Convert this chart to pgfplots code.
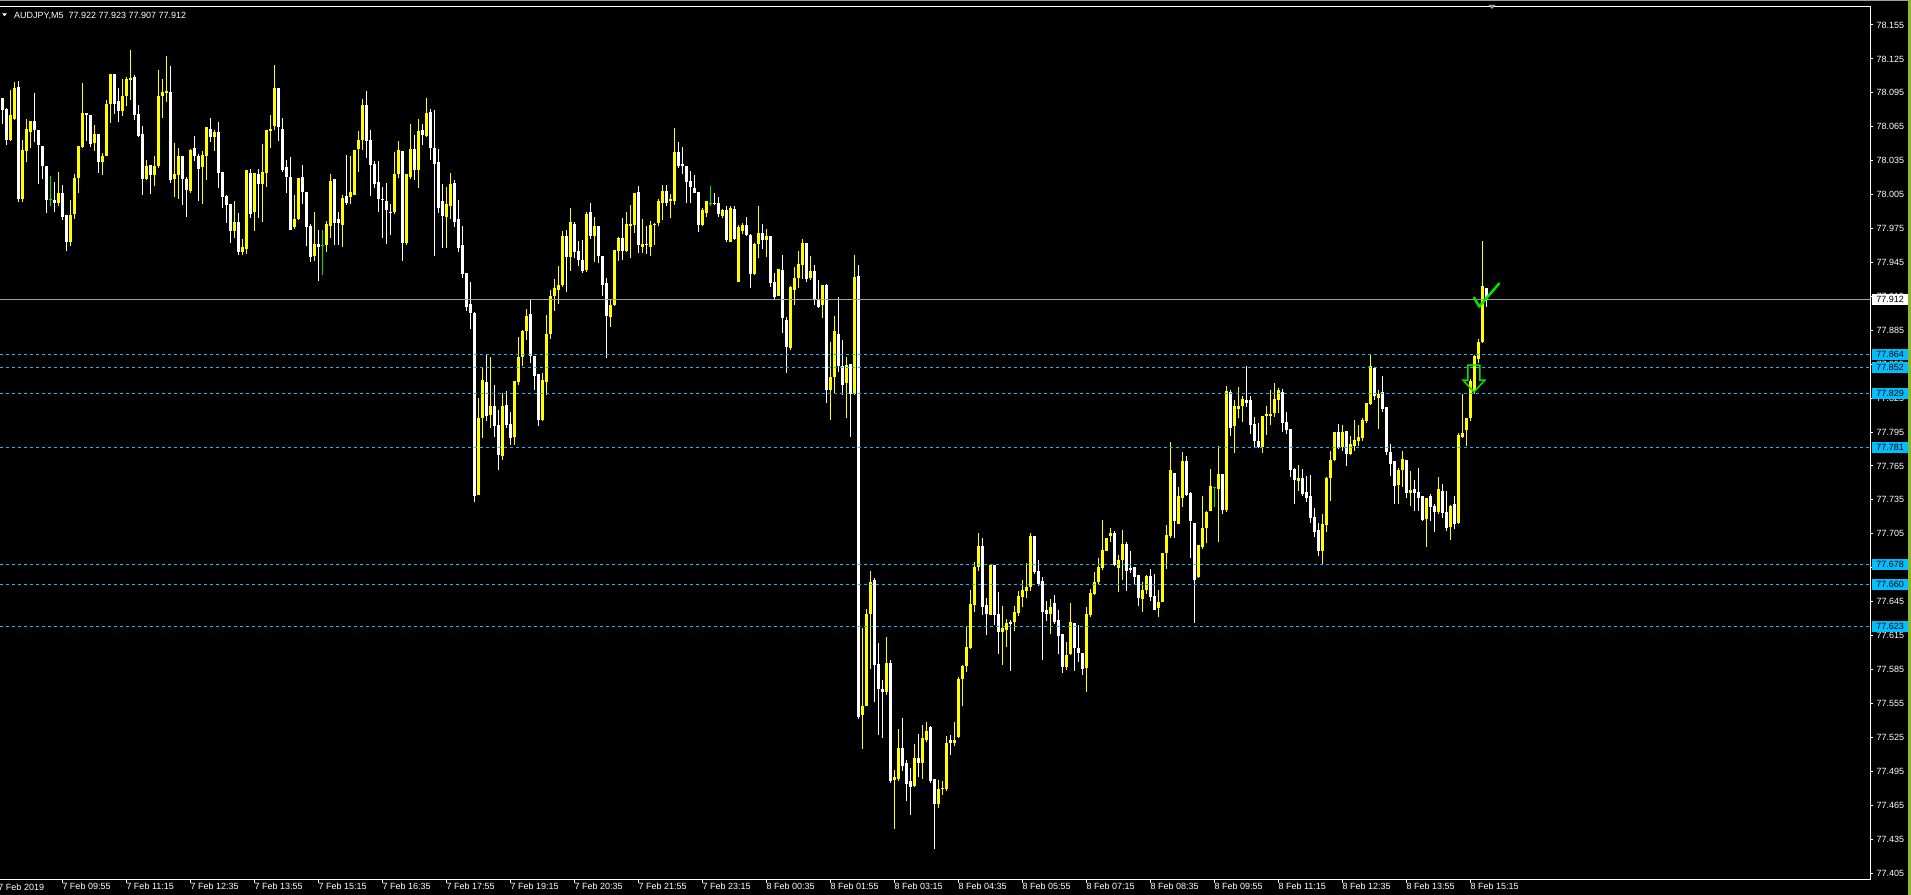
\documentclass[border=0pt]{standalone}
\usepackage{pgfplots}
\pgfplotsset{compat=1.18}
\usepackage{pgfplotstable}
\usepackage{fontspec}
\setmainfont{Liberation Sans}
\definecolor{mtcyan}{RGB}{0,191,255}
\definecolor{mtgreen}{RGB}{0,230,0}
\definecolor{mtgrey}{RGB}{160,160,160}
\definecolor{mtside}{RGB}{140,184,43}
\definecolor{mtyellow}{RGB}{255,255,0}
\newcommand\lbl{\fontsize{9bp}{10bp}\selectfont}

\pgfplotstableread{
k o h l c
2 78.053 78.098 78.053 78.075
3 78.072 78.106 78.072 78.099
5 78.001 78.054 77.999 78.044
6 78.044 78.073 78.035 78.063
7 78.060 78.070 78.047 78.070
14 77.998 78.027 77.997 78.006
17 77.963 78.001 77.960 77.987
18 77.988 78.024 77.984 78.020
19 78.020 78.048 78.007 78.048
20 78.047 78.105 78.047 78.077
23 78.051 78.067 78.044 78.059
25 78.034 78.042 78.022 78.039
26 78.039 78.089 78.039 78.085
27 78.085 78.113 78.069 78.112
30 78.079 78.108 78.075 78.092
31 78.092 78.109 78.083 78.107
32 78.106 78.134 78.090 78.108
36 78.019 78.037 78.019 78.030
38 78.022 78.040 78.014 78.030
39 78.030 78.116 78.029 78.092
40 78.092 78.108 78.074 78.096
41 78.095 78.128 78.087 78.097
43 78.019 78.052 78.004 78.023
44 78.022 78.048 78.003 78.039
47 78.008 78.046 78.007 78.044
50 78.029 78.044 77.997 78.040
51 78.039 78.066 78.019 78.065
53 78.056 78.063 78.044 78.060
58 77.973 78.000 77.968 77.981
60 77.954 77.967 77.953 77.959
61 77.957 78.027 77.954 78.027
63 77.990 78.024 77.974 78.024
65 78.014 78.050 77.981 78.025
66 78.024 78.062 78.013 78.062
67 78.061 78.076 78.047 78.063
68 78.066 78.121 78.063 78.099
73 77.976 78.006 77.976 77.983
74 77.983 78.020 77.983 78.020
78 77.951 77.991 77.947 77.961
81 77.960 77.983 77.955 77.979
82 77.977 78.025 77.968 78.017
85 77.978 78.005 77.959 78.002
87 78.003 78.040 77.998 78.007
88 78.005 78.044 78.005 78.044
89 78.045 78.062 78.026 78.053
90 78.053 78.091 78.046 78.084
98 77.990 78.044 77.989 78.023
99 78.023 78.053 78.021 78.044
101 77.962 78.025 77.962 78.023
102 78.021 78.068 78.020 78.045
104 78.027 78.072 78.011 78.061
106 78.057 78.092 78.057 78.077
111 77.985 78.013 77.959 77.997
112 77.995 78.025 77.984 78.014
119 77.739 77.825 77.739 77.807
120 77.807 77.854 77.791 77.841
122 77.810 77.862 77.799 77.818
125 77.774 77.830 77.771 77.818
128 77.791 77.841 77.784 77.840
129 77.839 77.880 77.838 77.861
130 77.861 77.886 77.854 77.884
131 77.884 77.905 77.878 77.898
135 77.806 77.848 77.806 77.841
136 77.839 77.899 77.828 77.882
137 77.882 77.921 77.878 77.915
138 77.915 77.930 77.902 77.922
139 77.921 77.943 77.909 77.925
140 77.925 77.973 77.924 77.968
142 77.950 77.993 77.937 77.981
146 77.938 77.991 77.938 77.988
148 77.968 77.986 77.946 77.977
152 77.897 77.914 77.890 77.907
153 77.907 77.956 77.907 77.956
154 77.955 77.968 77.947 77.967
156 77.955 77.990 77.955 77.979
157 77.977 77.997 77.950 77.979
158 77.978 78.006 77.972 78.006
160 77.959 77.983 77.953 77.961
162 77.959 77.983 77.952 77.978
163 77.978 77.979 77.960 77.979
164 77.980 78.002 77.978 77.999
165 77.998 78.014 77.983 78.008
167 77.999 78.007 77.986 78.001
168 77.999 78.065 77.997 78.043
175 77.978 77.994 77.978 77.991
176 77.989 78.000 77.986 77.999
180 77.986 77.993 77.985 77.991
182 77.963 77.994 77.963 77.993
184 77.928 77.978 77.928 77.976
185 77.973 77.981 77.972 77.978
188 77.935 77.963 77.935 77.961
189 77.961 77.996 77.950 77.971
191 77.965 77.975 77.950 77.968
194 77.915 77.939 77.915 77.939
197 77.869 77.925 77.869 77.923
198 77.921 77.941 77.907 77.931
199 77.931 77.956 77.923 77.944
200 77.943 77.966 77.931 77.962
202 77.931 77.951 77.930 77.937
205 77.907 77.925 77.897 77.925
207 77.832 77.875 77.806 77.844
208 77.844 77.898 77.829 77.884
211 77.838 77.862 77.808 77.854
213 77.829 77.953 77.829 77.932
215 77.545 77.623 77.516 77.553
216 77.553 77.638 77.553 77.634
217 77.634 77.674 77.587 77.662
221 77.565 77.615 77.563 77.591
223 77.487 77.497 77.444 77.490
224 77.488 77.532 77.486 77.516
228 77.482 77.519 77.481 77.507
230 77.502 77.536 77.488 77.524
231 77.523 77.540 77.522 77.531
234 77.466 77.488 77.463 77.479
235 77.479 77.486 77.474 77.480
236 77.479 77.527 77.478 77.520
238 77.520 77.540 77.518 77.523
239 77.525 77.579 77.525 77.577
240 77.577 77.590 77.554 77.588
241 77.588 77.624 77.583 77.605
242 77.604 77.656 77.604 77.643
243 77.642 77.681 77.637 77.676
244 77.676 77.707 77.673 77.694
247 77.633 77.677 77.633 77.677
250 77.618 77.642 77.590 77.622
251 77.620 77.630 77.605 77.626
253 77.627 77.642 77.620 77.636
254 77.635 77.655 77.633 77.650
255 77.649 77.665 77.641 77.655
256 77.654 77.680 77.649 77.658
257 77.658 77.706 77.655 77.703
262 77.634 77.649 77.618 77.640
266 77.587 77.610 77.585 77.598
267 77.599 77.645 77.599 77.627
271 77.586 77.642 77.567 77.634
272 77.633 77.657 77.632 77.653
273 77.652 77.672 77.652 77.662
274 77.662 77.684 77.661 77.676
275 77.675 77.717 77.673 77.691
276 77.690 77.701 77.690 77.701
277 77.703 77.710 77.698 77.706
279 77.675 77.688 77.655 77.682
280 77.682 77.708 77.664 77.696
285 77.647 77.663 77.637 77.655
286 77.655 77.669 77.652 77.668
289 77.639 77.656 77.632 77.645
290 77.645 77.688 77.645 77.688
291 77.688 77.714 77.675 77.704
292 77.703 77.786 77.701 77.761
294 77.714 77.746 77.714 77.738
295 77.737 77.777 77.729 77.769
299 77.667 77.695 77.666 77.695
300 77.693 77.739 77.692 77.710
301 77.710 77.726 77.698 77.724
302 77.725 77.762 77.725 77.747
304 77.745 77.783 77.698 77.758
306 77.726 77.837 77.725 77.831
308 77.800 77.824 77.777 77.818
309 77.815 77.836 77.809 77.818
310 77.818 77.828 77.805 77.824
315 77.782 77.809 77.778 77.809
316 77.809 77.819 77.793 77.811
317 77.809 77.833 77.802 77.811
318 77.812 77.839 77.809 77.824
319 77.823 77.834 77.812 77.832
324 77.752 77.767 77.744 77.754
330 77.690 77.723 77.678 77.714
331 77.713 77.757 77.708 77.754
332 77.754 77.778 77.734 77.770
333 77.770 77.795 77.770 77.795
335 77.782 77.801 77.778 77.795
337 77.776 77.793 77.776 77.784
338 77.783 77.807 77.779 77.788
339 77.787 77.802 77.784 77.791
340 77.790 77.807 77.787 77.806
341 77.805 77.822 77.804 77.821
342 77.820 77.865 77.820 77.853
344 77.825 77.833 77.798 77.829
349 77.748 77.763 77.731 77.761
350 77.761 77.779 77.747 77.771
352 77.741 77.761 77.730 77.744
356 77.718 77.737 77.693 77.737
359 77.724 77.756 77.723 77.745
362 77.711 77.731 77.700 77.730
364 77.715 77.795 77.715 77.792
365 77.791 77.829 77.790 77.794
366 77.797 77.808 77.783 77.807
367 77.807 77.842 77.805 77.840
368 77.831 77.864 77.830 77.862
369 77.860 77.879 77.858 77.875
370 77.875 77.964 77.874 77.924
}\upbars

\pgfplotstableread{
k o h l c
0 78.090 78.092 78.069 78.080
1 78.081 78.083 78.050 78.053
4 78.100 78.106 77.999 78.001
8 78.070 78.096 78.053 78.062
9 78.062 78.062 78.015 78.049
10 78.048 78.048 78.019 78.030
11 78.030 78.031 77.990 78.000
13 78.000 78.016 77.990 77.998
15 78.006 78.015 77.984 77.985
16 77.987 77.987 77.955 77.963
21 78.077 78.078 78.053 78.075
22 78.075 78.075 78.047 78.050
24 78.059 78.059 78.026 78.034
28 78.112 78.113 78.077 78.085
29 78.088 78.100 78.070 78.079
33 78.109 78.112 78.072 78.075
34 78.076 78.085 78.056 78.057
35 78.059 78.066 78.005 78.019
37 78.031 78.031 78.006 78.022
42 78.096 78.119 78.016 78.018
45 78.039 78.039 77.996 78.019
46 78.019 78.021 77.985 78.009
48 78.046 78.058 78.036 78.039
49 78.039 78.042 78.000 78.028
52 78.063 78.073 78.052 78.056
54 78.060 78.069 78.011 78.024
55 78.025 78.025 77.994 78.003
56 78.004 78.006 77.981 77.996
57 77.997 77.997 77.963 77.973
59 77.981 77.988 77.951 77.954
62 78.024 78.028 77.985 77.988
64 78.023 78.028 77.985 78.014
69 78.099 78.099 78.053 78.065
70 78.063 78.074 78.026 78.027
71 78.029 78.037 78.008 78.021
72 78.021 78.038 77.974 77.974
75 78.021 78.032 77.997 78.007
76 78.007 78.007 77.960 77.976
77 77.977 77.979 77.945 77.950
79 77.961 77.974 77.929 77.959
83 78.019 78.019 77.962 77.980
84 77.983 77.991 77.962 77.980
86 78.004 78.041 77.997 77.998
91 78.084 78.098 78.039 78.052
92 78.053 78.063 78.005 78.031
93 78.032 78.036 78.012 78.014
94 78.016 78.036 77.991 78.001
95 78.001 78.012 77.967 78.000
96 77.999 78.015 77.961 77.991
97 77.990 77.998 77.970 77.989
100 78.044 78.044 77.947 77.962
103 78.045 78.059 78.019 78.027
105 78.062 78.068 78.049 78.058
107 78.078 78.081 78.036 78.046
108 78.046 78.080 77.951 78.032
109 78.034 78.046 77.989 77.993
110 77.999 78.016 77.959 77.986
113 78.015 78.019 77.977 77.981
114 77.983 78.000 77.954 77.958
115 77.960 77.978 77.932 77.935
116 77.936 77.936 77.902 77.906
117 77.908 77.929 77.887 77.900
118 77.900 77.901 77.733 77.738
121 77.839 77.863 77.805 77.809
123 77.818 77.838 77.792 77.800
124 77.801 77.815 77.762 77.775
126 77.819 77.833 77.800 77.801
127 77.802 77.814 77.785 77.790
132 77.899 77.913 77.857 77.862
133 77.862 77.862 77.833 77.845
134 77.846 77.846 77.801 77.806
141 77.968 77.975 77.920 77.950
143 77.979 77.982 77.950 77.954
144 77.955 77.964 77.942 77.947
145 77.947 77.964 77.935 77.937
147 77.990 77.998 77.966 77.968
149 77.977 77.977 77.946 77.951
150 77.951 77.951 77.915 77.925
151 77.927 77.933 77.862 77.898
155 77.967 77.986 77.949 77.955
159 78.007 78.014 77.954 77.960
161 77.961 77.978 77.953 77.960
166 78.008 78.014 77.995 77.998
169 78.043 78.052 78.029 78.030
170 78.032 78.047 78.023 78.030
171 78.030 78.030 77.998 78.016
172 78.017 78.027 77.999 78.012
173 78.011 78.022 78.006 78.006
174 78.007 78.008 77.973 77.978
178 77.998 78.007 77.996 77.997
179 77.998 78.004 77.986 77.988
181 77.991 77.994 77.963 77.965
183 77.992 77.996 77.966 77.966
186 77.978 77.986 77.969 77.969
187 77.969 77.971 77.923 77.935
190 77.971 77.980 77.958 77.965
192 77.968 77.970 77.925 77.927
193 77.928 77.937 77.913 77.914
195 77.938 77.953 77.884 77.896
196 77.894 77.898 77.848 77.870
201 77.962 77.963 77.928 77.930
203 77.937 77.943 77.908 77.912
204 77.913 77.930 77.905 77.906
206 77.925 77.926 77.821 77.832
209 77.882 77.914 77.848 77.853
210 77.853 77.877 77.829 77.837
212 77.855 77.855 77.791 77.829
214 77.933 77.943 77.542 77.543
218 77.664 77.667 77.557 77.589
219 77.590 77.609 77.528 77.568
220 77.568 77.577 77.525 77.565
222 77.591 77.595 77.486 77.486
225 77.516 77.543 77.496 77.500
226 77.502 77.506 77.470 77.484
227 77.486 77.498 77.456 77.481
229 77.507 77.529 77.491 77.502
232 77.534 77.536 77.486 77.486
233 77.488 77.488 77.426 77.466
237 77.523 77.528 77.510 77.520
245 77.694 77.702 77.634 77.640
246 77.642 77.649 77.616 77.634
248 77.677 77.677 77.626 77.633
249 77.634 77.655 77.600 77.618
252 77.627 77.630 77.585 77.625
258 77.703 77.703 77.670 77.671
259 77.672 77.682 77.659 77.661
260 77.663 77.669 77.595 77.636
261 77.638 77.646 77.628 77.634
263 77.644 77.652 77.626 77.627
264 77.629 77.638 77.599 77.615
265 77.616 77.616 77.582 77.587
268 77.626 77.626 77.584 77.604
269 77.604 77.625 77.592 77.600
270 77.600 77.600 77.581 77.585
278 77.706 77.708 77.677 77.677
281 77.696 77.699 77.655 77.672
282 77.675 77.689 77.670 77.673
283 77.676 77.676 77.661 77.667
284 77.669 77.669 77.642 77.648
287 77.668 77.674 77.646 77.649
288 77.650 77.669 77.638 77.638
293 77.759 77.759 77.702 77.716
296 77.769 77.775 77.739 77.739
297 77.741 77.742 77.684 77.716
298 77.715 77.715 77.627 77.664
305 77.758 77.758 77.723 77.726
307 77.830 77.833 77.792 77.799
311 77.823 77.854 77.818 77.821
312 77.823 77.828 77.795 77.801
313 77.802 77.809 77.782 77.787
314 77.787 77.804 77.782 77.782
320 77.830 77.833 77.795 77.803
321 77.804 77.814 77.794 77.797
322 77.798 77.798 77.756 77.761
323 77.762 77.763 77.731 77.753
325 77.754 77.762 77.738 77.740
326 77.742 77.757 77.734 77.737
327 77.738 77.757 77.715 77.719
328 77.720 77.729 77.703 77.707
329 77.708 77.715 77.685 77.690
334 77.795 77.803 77.781 77.781
336 77.796 77.796 77.766 77.776
343 77.852 77.853 77.824 77.827
345 77.830 77.845 77.813 77.815
346 77.817 77.817 77.776 77.777
347 77.777 77.784 77.756 77.767
348 77.769 77.769 77.731 77.747
351 77.770 77.770 77.738 77.741
353 77.745 77.753 77.726 77.741
354 77.742 77.764 77.726 77.737
355 77.738 77.738 77.717 77.717
357 77.738 77.741 77.717 77.729
358 77.730 77.732 77.707 77.724
360 77.743 77.750 77.720 77.723
361 77.724 77.743 77.708 77.710
363 77.731 77.739 77.710 77.714
371 77.922 77.923 77.907 77.912
}\downbars

\pgfplotstableread{
k o h l c
12 78.001 78.021 77.994 78.001
80 77.960 77.975 77.935 77.960
177 77.997 78.014 77.996 77.997
303 77.746 77.747 77.730 77.746
}\dojibars

% candle body: a 3bp wide rectangle from the open (data point) to the close.
% point meta = close - open, mapped from [-0.5,0.5] to [0,1000];
% 1130.69 bp per price unit = 873bp / (78.17136 - 77.39927)
\pgfdeclareplotmark{cbody}{%
  \pgfmathsetmacro\cbh{\pgfplotspointmetatransformed*1.13069-565.345}%
  \pgfpathrectangle{\pgfpoint{-1.5bp}{0bp}}{\pgfpoint{3bp}{\cbh bp}}%
  \pgfusepathqfill}

\pgfplotsset{
  wick/.style={only marks, mark=none, mark size=0pt, mark options={draw=none, fill=none},
    error bars/.cd, y dir=both, y explicit, error mark=none, error bar style={draw=#1, line width=1bp}},
  cbodies/.style={scatter, only marks, mark=cbody,
    point meta={\thisrow{c}-\thisrow{o}}, point meta min=-0.5, point meta max=0.5,
    scatter/use mapped color={draw=none, fill=#1}},
}

\begin{document}
\begin{tikzpicture}
\useasboundingbox (0bp,0bp) rectangle (1911bp,895bp);
\fill[black] (0bp,0bp) rectangle (1911bp,895bp);
\begin{axis}[
  at={(0bp,15.5bp)}, anchor=south west,
  scale only axis, width=1870.3bp, height=873bp,
  xmin=-0.575, xmax=467, ymin=77.39927, ymax=78.17136,
  axis line style={draw=none},
  clip mode=individual,
  tick align=outside, major tick length=3bp,
  tick style={white, line width=1bp},
  xtick pos=left, ytick pos=right,
  xticklabel pos=left, yticklabel pos=right,
  xtick={15,31,...,367},
  xticklabels={7 Feb 09:55, 7 Feb 11:15, 7 Feb 12:35, 7 Feb 13:55, 7 Feb 15:15, 7 Feb 16:35, 7 Feb 17:55, 7 Feb 19:15, 7 Feb 20:35, 7 Feb 21:55, 7 Feb 23:15, 8 Feb 00:35, 8 Feb 01:55, 8 Feb 03:15, 8 Feb 04:35, 8 Feb 05:55, 8 Feb 07:15, 8 Feb 08:35, 8 Feb 09:55, 8 Feb 11:15, 8 Feb 12:35, 8 Feb 13:55, 8 Feb 15:15},
  ytick={77.405,77.435,77.465,77.495,77.525,77.555,77.585,77.615,77.645,77.675,77.705,77.735,77.765,77.795,77.825,77.855,77.885,77.915,77.945,77.975,78.005,78.035,78.065,78.095,78.125,78.155},
  yticklabels={77.405,77.435,77.465,77.495,77.525,77.555,77.585,77.615,77.645,77.675,77.705,77.735,77.765,77.795,77.825,77.855,77.885,77.915,77.945,77.975,78.005,78.035,78.065,78.095,78.125,78.155},
  ticklabel style={text=white, font=\lbl, inner sep=0pt},
  xticklabel style={anchor=north west},
  yticklabel style={anchor=west, xshift=3bp},
]
% wicks and bodies
\addplot[white, wick=white] table[x=k, y expr=(\thisrow{h}+\thisrow{l})/2, y error expr=(\thisrow{h}-\thisrow{l})/2]{\downbars};
\addplot[cbodies=white] table[x=k, y=o]{\downbars};
\addplot[mtyellow, wick=mtyellow] table[x=k, y expr=(\thisrow{h}+\thisrow{l})/2, y error expr=(\thisrow{h}-\thisrow{l})/2]{\upbars};
\addplot[cbodies=mtyellow] table[x=k, y=o]{\upbars};
\addplot[mtgreen, wick=mtgreen] table[x=k, y expr=(\thisrow{h}+\thisrow{l})/2, y error expr=(\thisrow{h}-\thisrow{l})/2]{\dojibars};
\addplot[mtgreen, only marks, mark=-, mark size=1.5bp, mark options={line width=1bp}] table[x=k,y=o]{\dojibars};
% price levels
\addplot[mtcyan, line width=1bp, dash pattern=on 3bp off 3bp] coordinates {(-0.575,77.864) (467,77.864)};
\addplot[mtcyan, line width=1bp, dash pattern=on 3bp off 3bp] coordinates {(-0.575,77.852) (467,77.852)};
\addplot[mtcyan, line width=1bp, dash pattern=on 3bp off 3bp] coordinates {(-0.575,77.829) (467,77.829)};
\addplot[mtcyan, line width=1bp, dash pattern=on 3bp off 3bp] coordinates {(-0.575,77.781) (467,77.781)};
\addplot[mtcyan, line width=1bp, dash pattern=on 3bp off 3bp] coordinates {(-0.575,77.678) (467,77.678)};
\addplot[mtcyan, line width=1bp, dash pattern=on 3bp off 3bp] coordinates {(-0.575,77.660) (467,77.660)};
\addplot[mtcyan, line width=1bp, dash pattern=on 3bp off 3bp] coordinates {(-0.575,77.623) (467,77.623)};
\addplot[mtgrey, line width=1bp] coordinates {(-0.575,77.912) (467,77.912)};
\coordinate (ar) at (axis cs:367.9,77.8304);
\coordinate (ck) at (axis cs:369.2,77.906);
\coordinate (b1) at (axis cs:467,77.864);
\coordinate (b2) at (axis cs:467,77.852);
\coordinate (b3) at (axis cs:467,77.829);
\coordinate (b4) at (axis cs:467,77.781);
\coordinate (b5) at (axis cs:467,77.678);
\coordinate (b6) at (axis cs:467,77.660);
\coordinate (b7) at (axis cs:467,77.623);
\coordinate (b0) at (axis cs:467,77.912);
\coordinate (d0) at (axis cs:-1,77.39927);
\end{axis}
% arrow and check objects
\draw[mtgreen, line width=1.5bp, line join=miter] (ar) -- ++(11bp,12bp) -- ++(-5bp,0bp) -- ++(0bp,15bp) -- ++(-12bp,0bp) -- ++(0bp,-15bp) -- ++(-5bp,0bp) -- cycle;
\draw[mtgreen, line width=2.5bp, line cap=round, line join=round] (ck) ++(-5bp,9bp) -- ++(5bp,-9bp) -- ++(20bp,23bp);
% frame
\draw[white, line width=1bp] (0bp,888.5bp) -- (1870.3bp,888.5bp) -- (1870.3bp,15.5bp) -- (0bp,15.5bp);
\fill[mtgrey] (0bp,893.5bp) rectangle (1911bp,895bp);
\fill[mtside] (1907.5bp,0bp) rectangle (1911bp,895bp);
\fill[mtgrey] (1488.5bp,890bp) -- (1495.5bp,890bp) -- (1492bp,886bp) -- cycle;
% price boxes
\foreach \c/\v in {b1/77.864,b2/77.852,b3/77.829,b4/77.781,b5/77.678,b6/77.660,b7/77.623}{
  \node[fill=mtcyan, text=black, minimum width=36bp, minimum height=11bp, inner sep=0pt, anchor=west, font=\lbl] at ([xshift=1.7bp]\c) {\v};
}
\node[fill=white, text=black, minimum width=36bp, minimum height=11bp, inner sep=0pt, anchor=west, font=\lbl] at ([xshift=1.7bp]b0) {77.912};
\node[anchor=north west, inner sep=0pt, text=white, font=\lbl] at ([yshift=-4bp]d0) {7 Feb 2019};
% title
\fill[white] (2bp,881.7bp) -- (7bp,881.7bp) -- (4.5bp,878.7bp) -- cycle;
\node[anchor=base west, inner sep=0pt, text=white, font=\lbl] at (14bp,876.5bp) {AUDJPY,M5\ \ 77.922 77.923 77.907 77.912};
\end{tikzpicture}
\end{document}
